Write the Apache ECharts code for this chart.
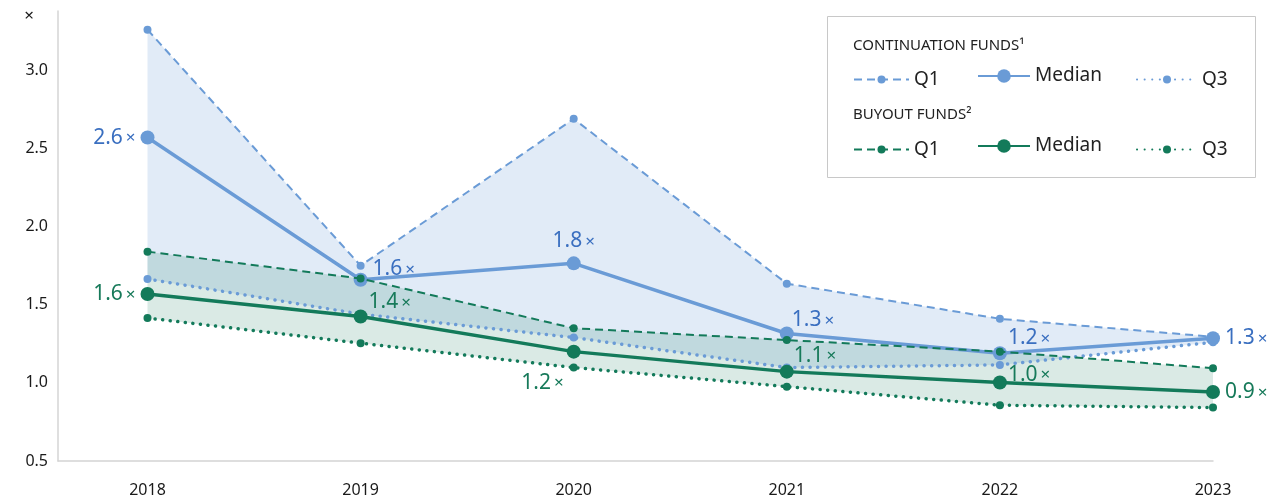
<!DOCTYPE html>
<html>
<head>
<meta charset="utf-8">
<script src="https://cdn.jsdelivr.net/npm/echarts@6/dist/echarts.min.js"></script>
<style>html,body{margin:0;padding:0;background:#fff}#c{width:1279px;height:504px}</style>
</head>
<body>
<div id="c"></div>
<script>
const years = [2018, 2019, 2020, 2021, 2022, 2023];
const contQ1 = [3.26, 1.75, 2.69, 1.635, 1.41, 1.295];
const contMedian = [2.57, 1.66, 1.765, 1.316, 1.19, 1.286];
const contQ3 = [1.665, 1.44, 1.29, 1.098, 1.115, 1.26];
const buyQ1 = [1.84, 1.668, 1.35, 1.274, 1.2, 1.094];
const buyMedian = [1.569, 1.425, 1.2, 1.072, 1.002, 0.942];
const buyQ3 = [1.415, 1.254, 1.098, 0.976, 0.857, 0.842];
const contMedianLabels = ['2.6', '1.6', '1.8', '1.3', '1.2', '1.3'];
const buyMedianLabels = ['1.6', '1.4', '1.2', '1.1', '1.0', '0.9'];
const yTicks = [0.5, 1.0, 1.5, 2.0, 2.5, 3.0];

const FONT = 'Noto Sans';
const BLUE = '#6a9bd6', BLUE_T = '#3a6fc0';
const GREEN = '#137a5a', GREEN_T = '#177a5a';

// label placement (style only)
const contPos = [['left',[0,0]],['right',[0,-11]],['top',[0,0]],['right',[-7,-13]],['right',[-4,-15]],['right',[0,0]]];
const buyPos = [['left',[0,0]],['right',[-4,-14]],['left',[2,31]],['right',[-5,-16]],['right',[-4,-8]],['right',[0,0]]];

const pairs = arr => years.map((y, i) => [y, arr[i]]);

function medianData(vals, labels, pos, color) {
  return years.map((y, i) => ({
    value: [y, vals[i]],
    label: {
      show: true, position: pos[i][0], offset: pos[i][1], distance: 5,
      formatter: '{v|' + labels[i] + '}{x|×}',
      rich: {
        v: { fontFamily: FONT, fontSize: 21, color: color },
        x: { fontFamily: FONT, fontSize: 17, color: color, padding: [2, 0, 0, 3] }
      }
    }
  }));
}

const dashType = [8, 5];
const dotType = [0.1, 7.5];

function bandSeries(name, upper, lower, fill) {
  return {
    name: name, type: 'custom', silent: true, z: 1,
    data: years.map((y, i) => [y, upper[i], lower[i]]),
    encode: { x: 0, y: [1, 2] },
    renderItem: (params, api) => {
      if (params.dataIndexInside !== 0) return null;
      const n = params.dataInsideLength;
      const top = [], bottom = [];
      for (let i = 0; i < n; i++) {
        top.push(api.coord([api.value(0, i), api.value(1, i)]));
        bottom.push(api.coord([api.value(0, i), api.value(2, i)]));
      }
      return { type: 'polygon', shape: { points: top.concat(bottom.reverse()) }, style: { fill: fill } };
    }
  };
}

function lineSeries(name, data, color, kind, z) {
  const s = { name: name, type: 'line', data: data, symbol: 'circle', itemStyle: { color: color, opacity: 1 }, z: z };
  if (kind === 'q1') { s.symbolSize = 8; s.lineStyle = { color: color, width: 2, type: dashType }; }
  if (kind === 'med') { s.symbolSize = 14; s.lineStyle = { color: color, width: 3.5 }; }
  if (kind === 'q3') { s.symbolSize = 8; s.lineStyle = { color: color, width: 3.5, type: dotType, cap: 'round' }; }
  return s;
}

const series = [
  bandSeries('contBand', contQ1, contQ3, 'rgba(106,155,214,0.2)'),
  bandSeries('buyBand', buyQ1, buyQ3, 'rgba(19,122,90,0.155)'),
  lineSeries('Q1', pairs(contQ1), BLUE, 'q1', 3),
  lineSeries('Q3', pairs(contQ3), BLUE, 'q3', 3),
  lineSeries('Median', medianData(contMedian, contMedianLabels, contPos, BLUE_T), BLUE, 'med', 4),
  lineSeries('Q1 (buyout)', pairs(buyQ1), GREEN, 'q1', 5),
  lineSeries('Q3 (buyout)', pairs(buyQ3), GREEN, 'q3', 5),
  lineSeries('Median (buyout)', medianData(buyMedian, buyMedianLabels, buyPos, GREEN_T), GREEN, 'med', 6)
];

function legendItem(name, left, centerY, w, h) {
  return {
    data: [name], left: left, top: centerY - h / 2, padding: 0,
    itemWidth: w, itemHeight: h, selectedMode: false,
    formatter: n => n.replace(' (buyout)', ''),
    textStyle: { fontFamily: FONT, fontSize: 19, color: '#222', padding: [0, 0, 0, 0] }
  };
}

const legends = [
  legendItem('Q1', 853, 75, 55, 10),
  legendItem('Median', 977, 75, 52, 17),
  legendItem('Q3', 1136, 75, 60, 10),
  legendItem('Q1 (buyout)', 853, 145, 55, 10),
  legendItem('Median (buyout)', 977, 145, 52, 17),
  legendItem('Q3 (buyout)', 1136, 145, 60, 10)
];

const chart = echarts.init(document.getElementById('c'), null, { renderer: 'canvas' });
chart.setOption({
  animation: false,
  backgroundColor: '#fff',
  textStyle: { fontFamily: FONT },
  grid: { left: 58, right: 66, top: 11, bottom: 43 },
  xAxis: {
    type: 'value', min: 2017.58, max: 2023, splitNumber: 5,
    axisLine: { show: true, lineStyle: { color: '#d4d4d4', width: 1.5 } },
    axisTick: { show: false }, splitLine: { show: false },
    axisLabel: {
      fontFamily: FONT, fontSize: 16, color: '#1a1a1a', margin: 21, showMinLabel: false,
      formatter: v => years.indexOf(Math.round(v)) >= 0 && Math.abs(v - Math.round(v)) < 1e-6 ? String(Math.round(v)) : ''
    }
  },
  yAxis: {
    type: 'value', min: 0.5, max: 3.38, interval: 0.5,
    name: '×', nameLocation: 'end', nameGap: -5,
    nameTextStyle: { fontFamily: FONT, fontSize: 17, color: '#1a1a1a', align: 'right', verticalAlign: 'middle', padding: [0, 24, 0, 0] },
    axisLine: { show: true, lineStyle: { color: '#d4d4d4', width: 1.5 } },
    axisTick: { show: false }, splitLine: { show: false },
    axisLabel: {
      fontFamily: FONT, fontSize: 16, color: '#1a1a1a', margin: 10, showMaxLabel: false,
      formatter: v => { const t = yTicks.find(k => Math.abs(k - v) < 1e-6); return t === undefined ? '' : t.toFixed(1); }
    }
  },
  legend: legends,
  graphic: [
    { type: 'rect', z: 0, shape: { x: 827.5, y: 16.5, width: 428, height: 161 }, style: { fill: '#fff', stroke: '#c8c8c8', lineWidth: 1 } },
    { type: 'text', z: 5, style: { text: 'CONTINUATION FUNDS¹', x: 853, y: 46, fontFamily: FONT, fontSize: 15, fill: '#222', textVerticalAlign: 'middle' } },
    { type: 'text', z: 5, style: { text: 'BUYOUT FUNDS²', x: 853, y: 115, fontFamily: FONT, fontSize: 15, fill: '#222', textVerticalAlign: 'middle' } }
  ],
  series: series
});
</script>
</body>
</html>
